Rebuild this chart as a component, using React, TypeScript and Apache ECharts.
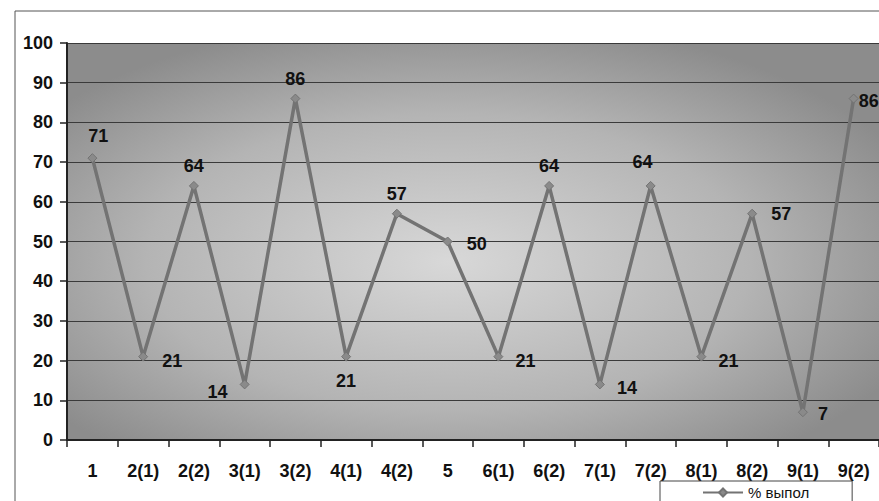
import React, { useEffect, useRef } from "react";
import * as echarts from "echarts";

const categories = ["1", "2(1)", "2(2)", "3(1)", "3(2)", "4(1)", "4(2)", "5", "6(1)", "6(2)", "7(1)", "7(2)", "8(1)", "8(2)", "9(1)", "9(2)"];
const values = [71, 21, 64, 14, 86, 21, 57, 50, 21, 64, 14, 64, 21, 57, 7, 86];
const yTicks = [0, 10, 20, 30, 40, 50, 60, 70, 80, 90, 100];
const seriesName = "% выпол";

// label placement per point (style only)
const labelPos: [string, number[]][] = [
  ["top", [6, -2]],
  ["right", [8, 4]],
  ["top", [0, 0]],
  ["left", [-6, 8]],
  ["top", [0, 0]],
  ["bottom", [0, 4]],
  ["top", [0, 0]],
  ["right", [8, 2]],
  ["right", [6, 4]],
  ["top", [0, 0]],
  ["right", [6, 4]],
  ["top", [-8, -4]],
  ["right", [6, 4]],
  ["right", [8, 0]],
  ["right", [4, 2]],
  ["right", [-6, 2]],
];

export default function App() {
  const ref = useRef<HTMLDivElement>(null);
  useEffect(() => {
    if (!ref.current) return;
    const chart = echarts.init(ref.current, undefined, { renderer: "svg" });
    const data = values.map((v, i) => ({
      value: v,
      label: { position: labelPos[i][0], offset: labelPos[i][1] },
    }));
    const font = "Liberation Sans, Arial, sans-serif";
    chart.setOption({
      animation: false,
      backgroundColor: "#ffffff",
      textStyle: { fontFamily: font },
      graphic: [
        {
          type: "rect",
          shape: { x: 15, y: 11, width: 900, height: 600 },
          style: { fill: "none", stroke: "#555", lineWidth: 1 },
          z: -1,
        },
      ],
      grid: {
        left: 67,
        top: 43,
        width: 819,
        height: 397,
        show: true,
        borderWidth: 0,
        backgroundColor: new echarts.graphic.RadialGradient(0.47, 0.55, 0.62, [
          { offset: 0, color: "#d8d8d8" },
          { offset: 0.6, color: "#b4b4b4" },
          { offset: 1, color: "#8c8c8c" },
        ]),
      },
      legend: {
        left: 660,
        top: 481,
        itemWidth: 40,
        itemHeight: 10,
        itemGap: 5,
        padding: [4, 43, 30, 42],
        borderColor: "#444",
        borderWidth: 1,
        backgroundColor: "#fff",
        textStyle: { fontSize: 15, color: "#111", fontFamily: font },
        data: [seriesName],
      },
      xAxis: {
        type: "category",
        data: categories,
        boundaryGap: true,
        axisLine: { lineStyle: { color: "#222", width: 2 } },
        axisTick: { show: true, length: 7, lineStyle: { color: "#222", width: 1.5 } },
        axisLabel: { fontSize: 18, fontWeight: "bold", color: "#111", margin: 22 },
        splitLine: { show: false },
      },
      yAxis: {
        type: "value",
        min: 0,
        max: 100,
        interval: 10,
        axisLine: { show: true, lineStyle: { color: "#222", width: 2 } },
        axisTick: { show: true, length: 7, lineStyle: { color: "#222", width: 1.5 } },
        axisLabel: {
          fontSize: 18,
          fontWeight: "bold",
          color: "#111",
          margin: 14,
          formatter: (v: number) => (yTicks.includes(v) ? String(v) : ""),
        },
        splitLine: { show: true, lineStyle: { color: "#3a3a3a", width: 1 } },
      },
      series: [
        {
          name: seriesName,
          type: "line",
          data,
          symbol: "diamond",
          symbolSize: 9,
          lineStyle: { color: "#737373", width: 3.5 },
          itemStyle: { color: "#8a8a8a", borderColor: "#737373", borderWidth: 1 },
          label: {
            show: true,
            fontSize: 18,
            fontWeight: "bold",
            color: "#111",
            distance: 6,
          },
        },
      ],
    });
    return () => chart.dispose();
  }, []);
  return (
    <div
      ref={ref}
      style={{ position: "fixed", left: 0, top: 0, width: 879, height: 501 }}
    />
  );
}
